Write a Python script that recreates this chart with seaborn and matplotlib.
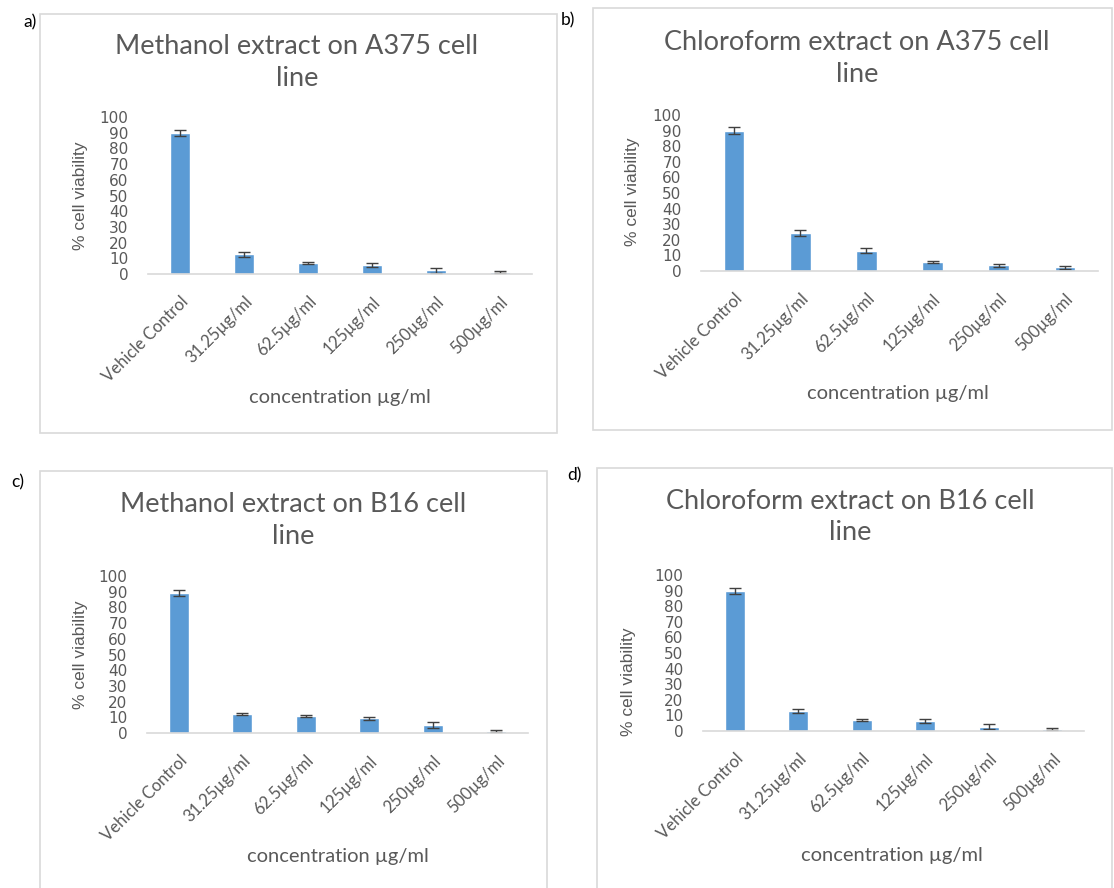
import matplotlib
matplotlib.use("Agg")
import matplotlib.pyplot as plt
import seaborn as sns
import numpy as np
import pandas as pd
from matplotlib.patches import Rectangle

# ---------------- data ----------------
categories = ["Vehicle Control", "31.25µg/ml", "62.5µg/ml", "125µg/ml", "250µg/ml", "500µg/ml"]

meth_a375 = [89.7, 12.6, 6.9, 5.6, 2.3, 1.1]
meth_a375_err = [2.0, 1.5, 0.7, 1.2, 1.8, 0.6]

chl_a375 = [90.0, 24.6, 13.0, 6.0, 3.6, 2.4]
chl_a375_err = [2.0, 2.0, 1.6, 0.6, 1.0, 1.0]

meth_b16 = [89.4, 12.1, 10.6, 9.3, 4.9, 1.3]
meth_b16_err = [2.0, 0.7, 0.7, 1.2, 1.8, 0.6]

chl_b16 = [89.8, 13.0, 7.2, 6.2, 2.8, 1.3]
chl_b16_err = [2.0, 1.2, 0.7, 1.2, 1.8, 0.6]

titles = ["Methanol extract on A375 cell\nline",
          "Chloroform extract on A375 cell\nline",
          "Methanol extract on B16 cell\nline",
          "Chloroform extract on B16 cell\nline"]
panel_letters = ["a)", "b)", "c)", "d)"]
y_ticks = [0, 10, 20, 30, 40, 50, 60, 70, 80, 90, 100]
x_label = "concentration µg/ml"
y_label = "% cell viability"

# ---------------- style ----------------
sns.set_theme(style="white")
plt.rcParams['font.family'] = ['Lato', 'DejaVu Sans']

W, H = 1114, 888
BAR = "#5B9BD5"
TXT = "#595959"
GRID = "#D9D9D9"

fig = plt.figure(figsize=(W / 100, H / 100), dpi=100)
fig.patch.set_facecolor("white")

def fx(x):
    return x / W

def fy(y):
    return 1 - y / H

# layout in pixels (not data)
panels = [
    dict(vals=meth_a375, err=meth_a375_err, ax=(148, 532, 117, 274), box=(40, 14, 557, 433),
         title=(297, 62), ylab=(80, 196), xlab=(340, 398), letter=(30, 22)),
    dict(vals=chl_a375, err=chl_a375_err, ax=(701, 1098, 115, 271), box=(593, 8, 1112, 430),
         title=(857, 58), ylab=(633, 192), xlab=(898, 393), letter=(568, 20)),
    dict(vals=meth_b16, err=meth_b16_err, ax=(147, 528, 576, 733), box=(40, 471, 547, 895),
         title=(293, 520), ylab=(80, 655), xlab=(338, 856), letter=(18, 482)),
    dict(vals=chl_b16, err=chl_b16_err, ax=(703, 1084, 575, 731), box=(597, 468, 1112, 895),
         title=(850, 517), ylab=(628, 682), xlab=(892, 855), letter=(574, 475)),
]

for i, p in enumerate(panels):
    bx0, by0, bx1, by1 = p["box"]
    fig.add_artist(Rectangle((fx(bx0), fy(by1)), fx(bx1) - fx(bx0), fy(by0) - fy(by1),
                             transform=fig.transFigure, fill=False, edgecolor=GRID,
                             linewidth=1.2, clip_on=False))
    fig.text(fx(p["letter"][0]), fy(p["letter"][1]), panel_letters[i], fontsize=12.5,
             color="black", ha="center", va="center")

    l, r, t, b = p["ax"]
    ax = fig.add_axes([fx(l), fy(b), fx(r) - fx(l), fy(t) - fy(b)])
    df = pd.DataFrame({"cat": categories, "val": p["vals"]})
    sns.barplot(data=df, x="cat", y="val", color=BAR, saturation=1, width=0.31,
                errorbar=None, ax=ax)
    ax.errorbar(np.arange(len(categories)), p["vals"], yerr=p["err"], fmt="none",
                ecolor="#404040", elinewidth=1.0, capsize=4, capthick=1.0, clip_on=False)
    ax.set_xlim(-0.5, len(categories) - 0.5)
    ax.set_ylim(0, 100)
    ax.set_yticks(y_ticks)
    ax.set_yticklabels([str(v) for v in y_ticks], fontsize=11, color=TXT,
                       family=['DejaVu Sans'])
    ax.set_xticks(np.arange(len(categories)))
    ax.set_xticklabels(categories, rotation=45, ha="right", rotation_mode="anchor",
                       fontsize=12, color=TXT)
    ax.tick_params(axis="x", length=0, pad=14)
    ax.tick_params(axis="y", length=0, pad=14)
    for s in ["top", "right", "left"]:
        ax.spines[s].set_visible(False)
    ax.spines["bottom"].set_color(GRID)
    ax.spines["bottom"].set_linewidth(1.2)
    ax.set_xlabel("")
    ax.set_ylabel("")
    ax.patch.set_alpha(0)

    fig.text(fx(p["title"][0]), fy(p["title"][1]), titles[i], fontsize=19.5, color=TXT,
             ha="center", va="center", linespacing=1.35)
    fig.text(fx(p["ylab"][0]), fy(p["ylab"][1]), y_label, fontsize=12.5, color=TXT,
             rotation=90, ha="center", va="center", family=['Liberation Sans', 'DejaVu Sans'])
    fig.text(fx(p["xlab"][0]), fy(p["xlab"][1]), x_label, fontsize=14.5, color=TXT,
             ha="center", va="center")

fig.savefig("out.png", dpi=100, facecolor="white")
